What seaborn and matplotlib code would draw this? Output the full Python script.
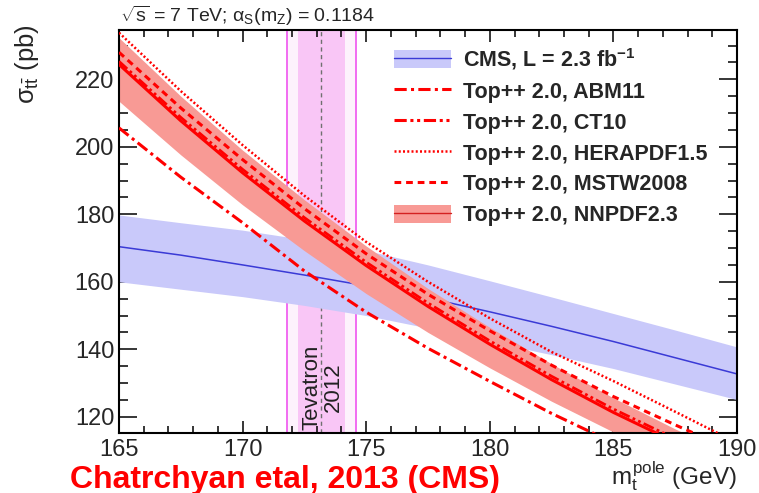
import matplotlib
matplotlib.use('Agg')
import matplotlib.pyplot as plt
from matplotlib.patches import Patch
from matplotlib.lines import Line2D
from matplotlib.ticker import MultipleLocator
import seaborn as sns

# top quark mass grid (GeV) and cross sections (pb)
mass = [165, 167.5, 170, 172.5, 175, 177.5, 180, 182.5, 185, 187.5, 190]

cms_central = [170.4, 167.9, 165.0, 162.0, 158.8, 155.2, 151.1, 146.8, 142.3, 137.5, 132.7]
cms_up = [179.8, 177.5, 175.3, 172.5, 169.3, 165.0, 160.3, 155.5, 150.6, 145.7, 140.7]
cms_down = [160.0, 157.8, 155.6, 153.0, 150.0, 146.3, 142.3, 138.4, 134.3, 129.7, 125.1]

nnpdf_central = [224.4, 207.7, 192.3, 178.0, 164.8, 152.7, 141.5, 131.0, 121.3, 112.5, 104.2]
nnpdf_up = [232.3, 215.0, 199.0, 184.3, 170.6, 158.0, 146.5, 135.7, 125.6, 116.4, 107.9]
nnpdf_down = [213.5, 197.6, 182.8, 169.2, 156.5, 145.0, 134.5, 124.6, 115.5, 107.0, 99.0]
abm11 = [205.6, 191.0, 177.5, 163.2, 151.0, 140.3, 130.5, 121.0, 112.3, 104.3, 97.0]
ct10 = [225.3, 208.7, 193.3, 179.0, 165.8, 153.7, 142.5, 132.0, 122.3, 113.5, 105.2]
herapdf = [233.8, 216.5, 200.5, 185.5, 171.8, 160.0, 149.2, 139.2, 130.6, 121.5, 112.3]
mstw = [228.0, 211.5, 196.2, 181.7, 168.3, 156.3, 145.5, 135.3, 126.0, 117.6, 109.5]

# Tevatron 2012 combination
teva_center = 173.18
teva_inner = (172.25, 174.15)
teva_outer = (171.78, 174.59)

labels = ['CMS, L = 2.3 fb$^{\\mathbf{-1}}$', 'Top++ 2.0, ABM11', 'Top++ 2.0, CT10',
          'Top++ 2.0, HERAPDF1.5', 'Top++ 2.0, MSTW2008', 'Top++ 2.0, NNPDF2.3']

sns.set_style('ticks')
plt.rcParams['font.family'] = ['Liberation Sans', 'DejaVu Sans']
plt.rcParams['mathtext.fontset'] = 'custom'
plt.rcParams['mathtext.rm'] = 'Liberation Sans'
plt.rcParams['mathtext.it'] = 'Liberation Sans'
plt.rcParams['mathtext.bf'] = 'Liberation Sans:bold'

RED = '#ff0000'
BLUE_BAND = '#c9c9fa'
RED_BAND = '#f89a95'

fig = plt.figure(figsize=(7.59, 4.93), dpi=100)
ax = fig.add_axes([119 / 759, 60 / 493, 618 / 759, 403 / 493])

# Tevatron band
ax.axvspan(*teva_outer, color='#fdf2fc', lw=0, zorder=0.4)
ax.axvspan(*teva_inner, color='#f9c6f6', lw=0, zorder=0.5)
for xv in teva_outer:
    ax.axvline(xv, color='#f060f0', lw=1.3, zorder=0.6)
ax.axvline(teva_center, color='#707070', lw=1.0, ls=(0, (3, 2.5)), zorder=0.6)

# CMS measurement
ax.fill_between(mass, cms_down, cms_up, color=BLUE_BAND, lw=0, zorder=1)
sns.lineplot(x=mass, y=cms_central, ax=ax, color='#3a3ad6', lw=1.1, zorder=1.5)

# NNPDF band
ax.fill_between(mass, nnpdf_down, nnpdf_up, color=RED_BAND, lw=0, zorder=2)

curves = [
    (abm11, (0, (4, 1.4, 1, 1.4)), 2.2),
    (ct10, (0, (4, 1.2, 1, 1.2, 1, 1.2)), 2.0),
    (herapdf, (0, (0.8, 0.9)), 1.8),
    (mstw, (0, (2.2, 1.6)), 2.2),
    (nnpdf_central, '-', 2.2),
]
for vals, style, width in curves:
    sns.lineplot(x=mass, y=vals, ax=ax, color=RED, lw=width, zorder=3)
    ax.lines[-1].set_linestyle(style)

ax.text(teva_center + 0.05, 128.8, 'Tevatron\n2012', rotation=90, ha='center', va='center',
        multialignment='center', fontsize=16, color='#222222', linespacing=1.0, zorder=4)

ax.set_xlim(165, 190)
ax.set_ylim(115.2, 234.6)
ax.xaxis.set_major_locator(MultipleLocator(5))
ax.xaxis.set_minor_locator(MultipleLocator(1))
ax.yaxis.set_major_locator(MultipleLocator(20))
ax.yaxis.set_minor_locator(MultipleLocator(5))
ax.tick_params(which='both', direction='in', top=True, right=True, width=1.1, color='black')
ax.tick_params(axis='x', which='major', length=8.6, labelsize=17, pad=4.5)
ax.tick_params(axis='x', which='minor', length=4.7)
ax.tick_params(axis='y', which='major', length=13, labelsize=17, pad=3.5)
ax.tick_params(axis='y', which='minor', length=6.5)
for sp in ax.spines.values():
    sp.set_visible(True)
    sp.set_linewidth(1.5)
    sp.set_color('black')
ax.set_xlabel('')
ax.set_ylabel('')

# legend
handles = [
    (Patch(facecolor=BLUE_BAND, edgecolor='none'), Line2D([], [], color='#3a3ad6', lw=1.0)),
    Line2D([], [], color=RED, lw=2.2, ls=(0, (4, 1.4, 1, 1.4))),
    Line2D([], [], color=RED, lw=2.2, ls=(0, (4, 1.2, 1, 1.2, 1, 1.2))),
    Line2D([], [], color=RED, lw=1.8, ls=(0, (0.8, 0.9))),
    Line2D([], [], color=RED, lw=2.2, ls=(0, (2.2, 1.6))),
    (Patch(facecolor=RED_BAND, edgecolor='none'), Line2D([], [], color='#d42020', lw=1.0)),
]
fs = 15.5
fs_px = fs * 100 / 72
ax.legend(handles, labels, loc='upper left', bbox_to_anchor=(394 / 759, 1 - 46 / 493),
          bbox_transform=fig.transFigure, frameon=False, borderpad=0, borderaxespad=0,
          prop={'weight': 'bold', 'size': fs}, handlelength=57 / fs_px,
          handleheight=21 / fs_px, labelspacing=0.42, handletextpad=12 / fs_px)

fig.text(120 / 759, 1 - 22 / 493, r'$\sqrt{s}$ = 7 TeV; $\alpha_S(m_Z)$ = 0.1184',
         fontsize=14, ha='left', va='baseline')
fig.text(27 / 759, 1 - 24 / 493, r'$\sigma_{t\bar{t}}$ (pb)', rotation=90,
         fontsize=18.5, ha='center', va='top')
fig.text(737 / 759, 1 - 484 / 493, r'$m_t^{\mathrm{pole}}$ (GeV)', fontsize=17.5,
         ha='right', va='baseline')
fig.text(70 / 759, 1 - 488 / 493, 'Chatrchyan etal, 2013 (CMS)', fontsize=23,
         fontweight='bold', color='#ff0000', ha='left', va='baseline')

fig.savefig('out.png', dpi=100)
